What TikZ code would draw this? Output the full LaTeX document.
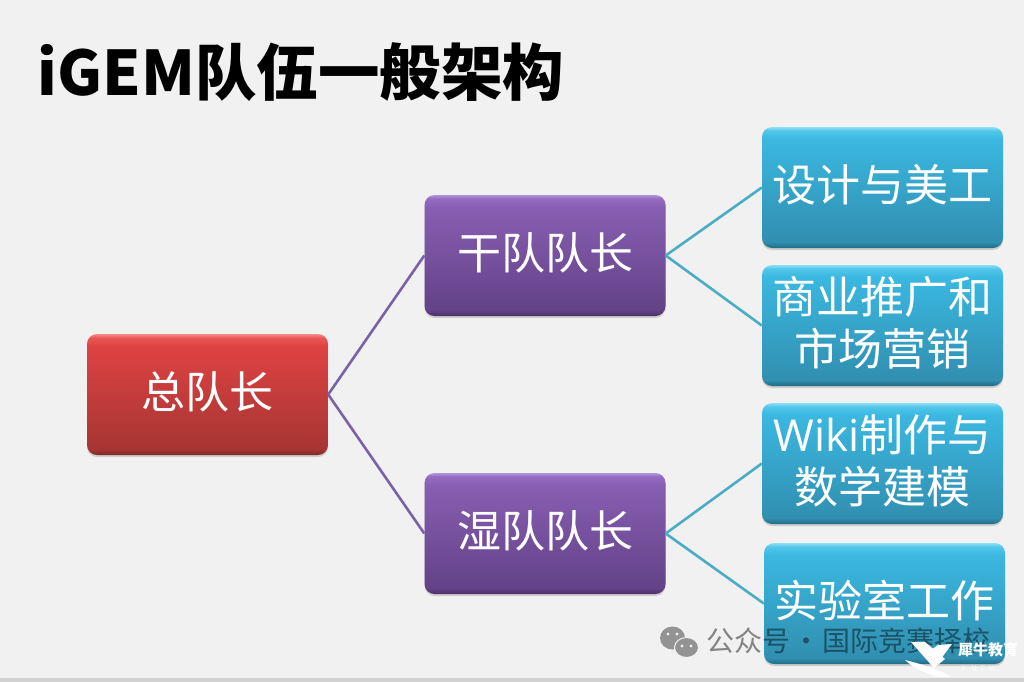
\documentclass[tikz,border=0pt]{standalone}
\usepackage{fontspec}
\setmainfont{Noto Sans CJK SC}
\newfontfamily\latinfont{Open Sans}
\usetikzlibrary{shadows}
\definecolor{pagegray}{HTML}{F1F1F1}
\definecolor{linkpurple}{HTML}{7A62A8}
\definecolor{linkteal}{HTML}{4BACC6}
\pgfdeclareverticalshading{boxred}{100bp}{
 rgb(0bp)=(.50,.16,.16); rgb(25bp)=(.50,.16,.16); rgb(27.5bp)=(.65,.21,.20); rgb(70bp)=(.87,.26,.26);
 rgb(73.5bp)=(.92,.34,.34); rgb(75bp)=(.95,.55,.55); rgb(100bp)=(.95,.55,.55)}
\pgfdeclareverticalshading{boxpurple}{100bp}{
 rgb(0bp)=(.30,.19,.42); rgb(25bp)=(.30,.19,.42); rgb(27.5bp)=(.39,.26,.53); rgb(70bp)=(.53,.37,.70);
 rgb(73.5bp)=(.58,.42,.76); rgb(75bp)=(.70,.58,.85); rgb(100bp)=(.70,.58,.85)}
\pgfdeclareverticalshading{boxblue}{100bp}{
 rgb(0bp)=(.13,.42,.52); rgb(25bp)=(.13,.42,.52); rgb(27.5bp)=(.19,.56,.69); rgb(70bp)=(.23,.72,.88);
 rgb(73.5bp)=(.32,.78,.92); rgb(75bp)=(.55,.88,.97); rgb(100bp)=(.55,.88,.97)}
\tikzset{
 orgbox/.style={rounded corners=10pt,minimum width=241pt,minimum height=121pt,inner sep=0pt,
  drop shadow={shadow xshift=0pt,shadow yshift=-2pt,opacity=.3}},
 chief/.style={orgbox,shading=boxred},
 lead/.style={orgbox,shading=boxpurple},
 team/.style={orgbox,shading=boxblue},
 every label/.style={text=white,align=center,font=\fontsize{44}{52}\selectfont,inner sep=0pt,yshift=3pt},
 link/.style={line width=2.6pt}
}
\begin{document}
\begin{tikzpicture}[x=1pt,y=-1pt]
\useasboundingbox (0,0) rectangle (1024,682);
\fill[pagegray] (0,0) rectangle (1024,682);
\fill[gray!35] (0,678) rectangle (1024,682);
\node (title) [anchor=west,font=\fontsize{61.5}{61.5}\selectfont\bfseries] at (34,72) {iGEM队伍一般架构};
% boxes
\node (chief) [chief,label=center:总队长] at (207.5,394.5) {};
\node (dry) [lead,label=center:干队队长] at (545,255.5) {};
\node (wet) [lead,label=center:湿队队长] at (545,533.5) {};
\node (design) [team,label=center:设计与美工] at (882.5,187.5) {};
\node (market) [team,label={center:商业推广和\\市场营销}] at (882.5,325.5) {};
\node (wiki) [team,label={center:{\latinfont Wiki}制作与\\数学建模}] at (882.5,463.5) {};
\node (lab) [team,label=center:实验室工作] at (884.5,603.5) {};
% links
\foreach \a/\b in {chief/dry,chief/wet}{
\draw[link,linkpurple] (\a.east)--(\b.west);
}
\foreach \a/\b in {dry/design,dry/market,wet/wiki,wet/lab}{
\draw[link,linkteal] (\a.east)--(\b.west);
}
% watermark
\fill[gray!85] (672.5,638) ellipse (12.5pt and 11.5pt);
\fill[gray!85,draw=pagegray,line width=1pt] (686.5,647.5) ellipse (12pt and 10pt);
\foreach \x/\y in {668/634,677/634,682/646,691/646}{
\fill[pagegray] (\x,\y) circle (1.6pt);
}
\node (mark) [anchor=west,inner sep=0pt,text=black,text opacity=.45,font=\fontsize{28}{28}\selectfont] at (706,641) {公众号\kern-4pt\ ·\ \kern-4pt国际竞赛择校};
\fill[white] (911,642) -- (925,642) -- (945,659) -- (934,668) -- cycle;
\fill[white] (952,644) -- (938,645) -- (924,655) -- (934,668) -- cycle;
\fill[white] (905,660) .. controls (925,665) and (940,670) .. (951,677) -- (936,677) .. controls (925,672) and (913,668) .. (905,660) -- cycle;
\node (brand) [anchor=west,inner sep=0pt,text=white,font=\fontsize{15}{15}\selectfont\bfseries] at (958,650) {犀牛教育};
\node (brandsub) [anchor=west,inner sep=0pt,text=white,text opacity=.7,font=\fontsize{8}{8}\selectfont] at (961,669) {X\ \ \ N\ \ E\ \ W};
\end{tikzpicture}
\end{document}
